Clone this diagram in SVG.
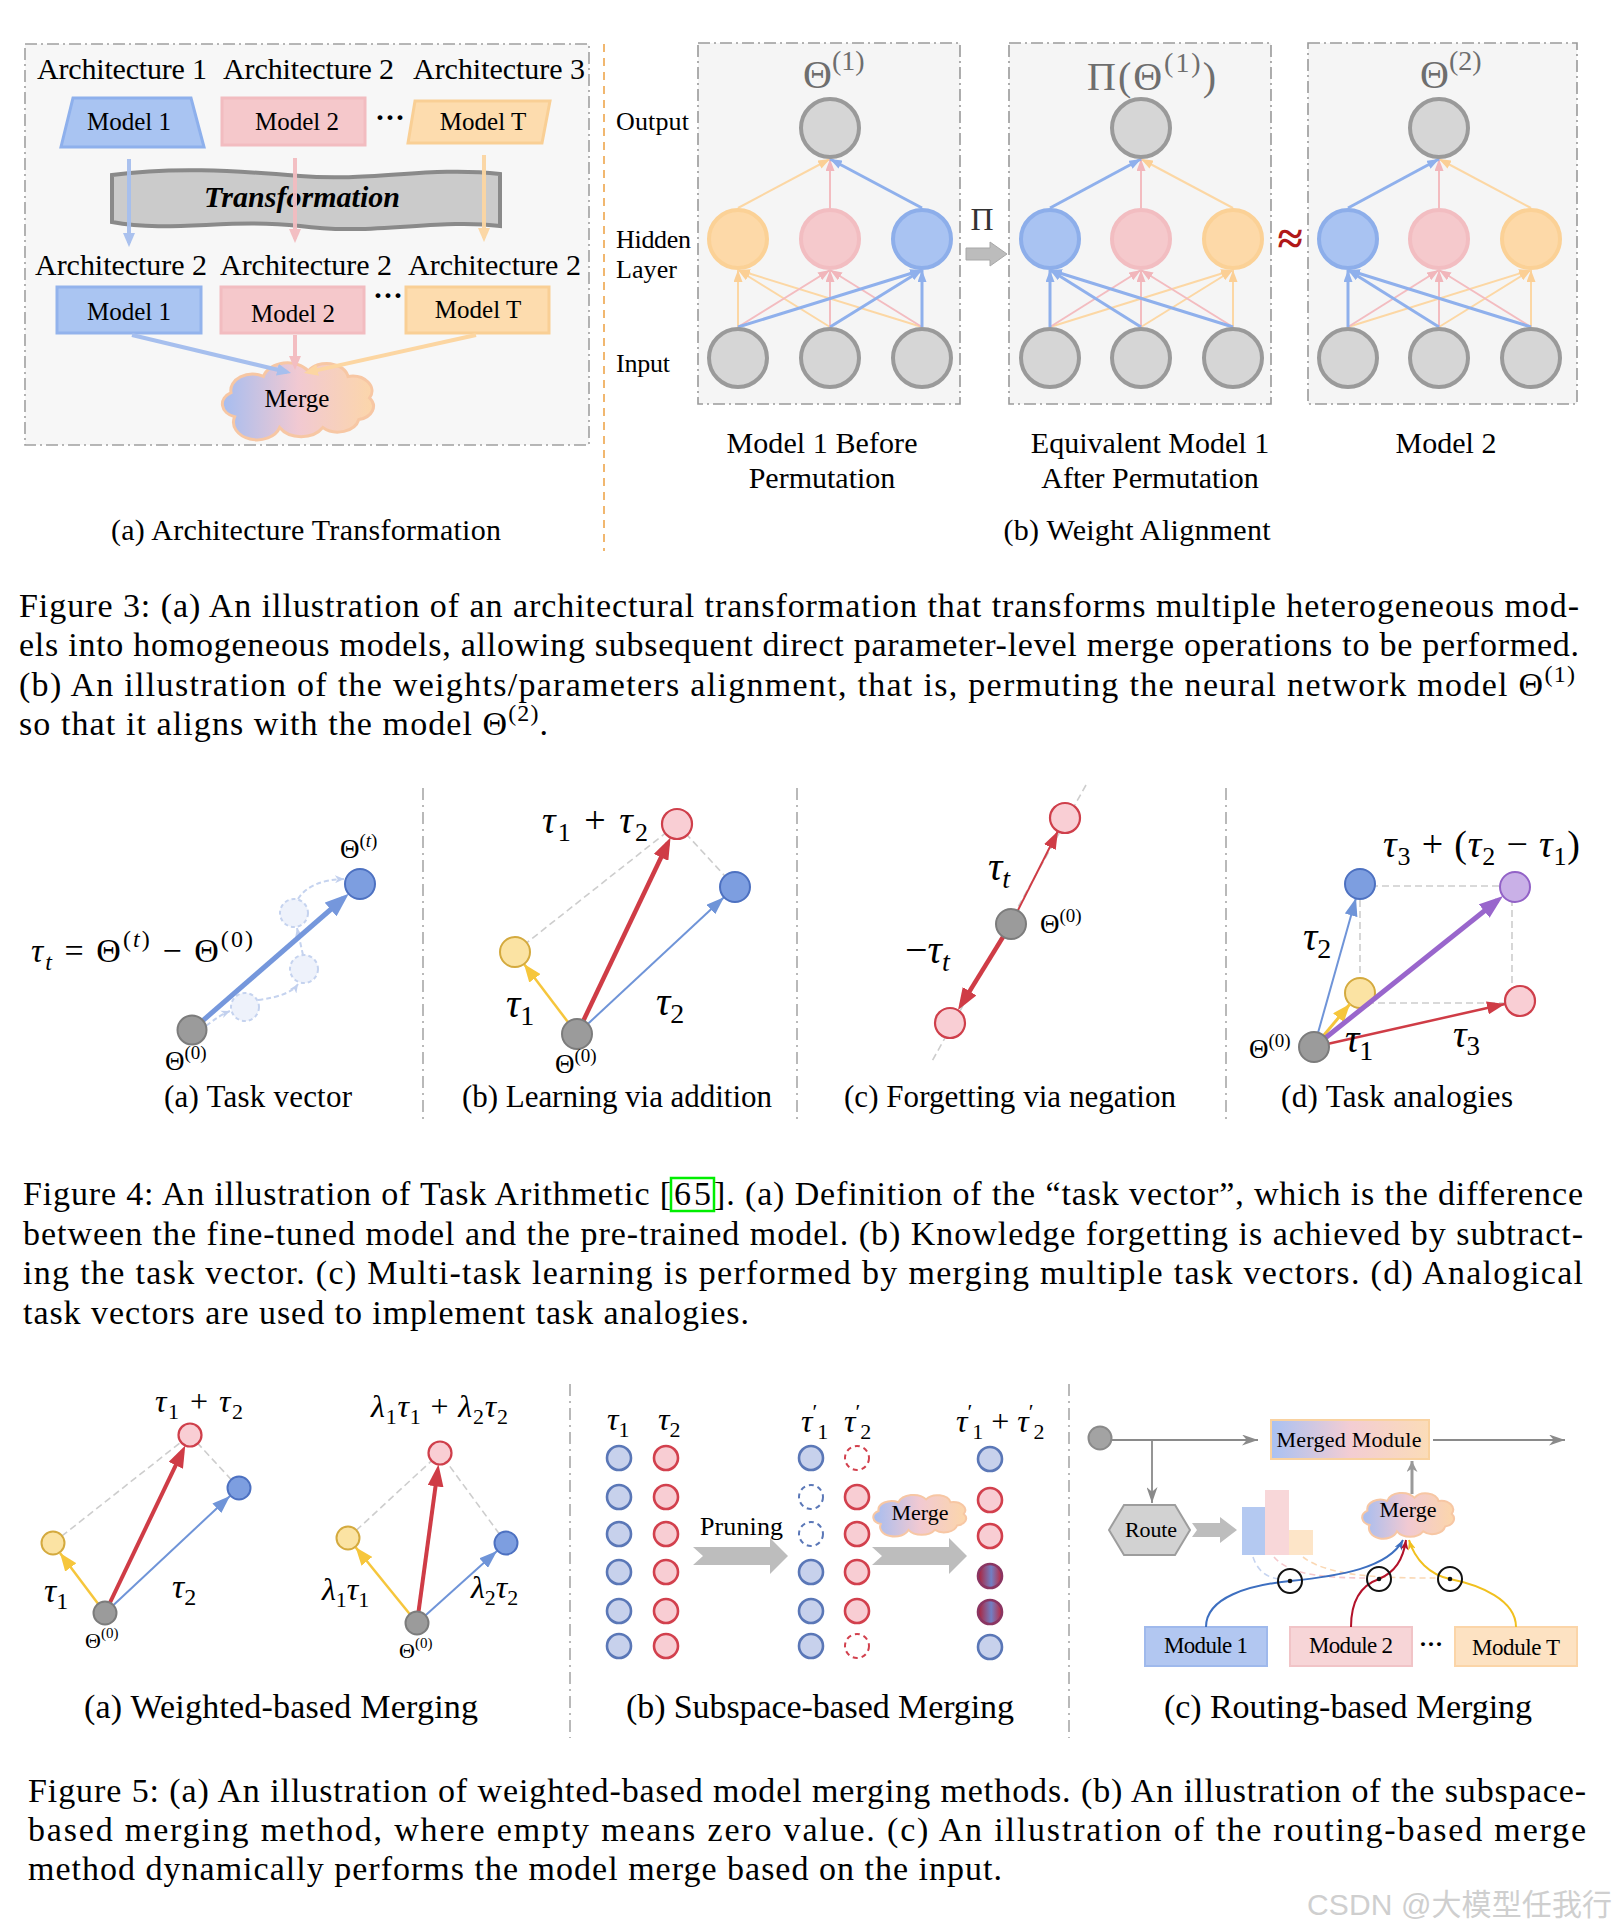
<svg xmlns="http://www.w3.org/2000/svg" width="1620" height="1931" viewBox="0 0 1620 1931">
<defs>
<style>
text{font-family:"Liberation Serif","Times New Roman",serif}
.it{font-style:italic}
.box{fill:#f7f7f7;stroke:#a0a0a0;stroke-width:1.6;stroke-dasharray:12 4 2 4}
.pnl{fill:#f5f5f5;stroke:#9a9a9a;stroke-width:1.6;stroke-dasharray:12 4 2 4}
.vdiv{fill:none;stroke:#a8a8a8;stroke-width:1.6;stroke-dasharray:12 5 2 5}
.gn{fill:#d6d6d6;stroke:#9a9a9a;stroke-width:4}
.hb{fill:#a9c3f2;stroke:#8daeea;stroke-width:4}
.hp{fill:#f5c9cc;stroke:#f2bdc1;stroke-width:4}
.ho{fill:#fdd9a8;stroke:#fbd196;stroke-width:4}
.eb{stroke:#8fb0ec;stroke-width:3;fill:none;marker-end:url(#m3b)}
.ep{stroke:#f3bcc0;stroke-width:2;fill:none;marker-end:url(#m3p)}
.eo{stroke:#fcd7a4;stroke-width:2;fill:none;marker-end:url(#m3o)}
.n0{fill:#9b9b9b;stroke:#7c7c7c;stroke-width:2}
.nb{fill:#7d9ee0;stroke:#4d71c1;stroke-width:2}
.nr{fill:#f9ced4;stroke:#cf3f4b;stroke-width:2.2}
.ny{fill:#fbe3a3;stroke:#d4aa3e;stroke-width:2}
.np{fill:#c9b0e7;stroke:#9262c7;stroke-width:2}
.dg{stroke:#cdcdcd;stroke-width:1.6;stroke-dasharray:7 4;fill:none}
.cb{fill:#c7d1ec;stroke:#5a77b7;stroke-width:2.6}
.cr{fill:#f8cdd3;stroke:#d2404d;stroke-width:2.6}
.cbd{fill:none;stroke:#5a77b7;stroke-width:2;stroke-dasharray:5 4}
.crd{fill:none;stroke:#d2404d;stroke-width:2;stroke-dasharray:5 4}
.fat{fill:#bcbcbc;stroke:#a8a8a8;stroke-width:1}
.ttl{fill:#6e6e6e}
.wm{font-family:"Liberation Sans","Noto Sans CJK SC",sans-serif;fill:#cfcfcf}
</style>
<marker id="m3b" viewBox="0 0 10 10" refX="10" refY="5" markerWidth="12" markerHeight="9" markerUnits="userSpaceOnUse" orient="auto" preserveAspectRatio="none"><path d="M0,0L10,5L0,10z" fill="#8fb0ec"/></marker>
<marker id="m3p" viewBox="0 0 10 10" refX="10" refY="5" markerWidth="12" markerHeight="9" markerUnits="userSpaceOnUse" orient="auto" preserveAspectRatio="none"><path d="M0,0L10,5L0,10z" fill="#f1b6bb"/></marker>
<marker id="m3o" viewBox="0 0 10 10" refX="10" refY="5" markerWidth="12" markerHeight="9" markerUnits="userSpaceOnUse" orient="auto" preserveAspectRatio="none"><path d="M0,0L10,5L0,10z" fill="#fbcf95"/></marker>
<marker id="mAb" viewBox="0 0 10 10" refX="7" refY="5" markerWidth="14" markerHeight="12" markerUnits="userSpaceOnUse" orient="auto" preserveAspectRatio="none"><path d="M0,0L10,5L0,10z" fill="#a6bfee"/></marker>
<marker id="mAp" viewBox="0 0 10 10" refX="7" refY="5" markerWidth="14" markerHeight="12" markerUnits="userSpaceOnUse" orient="auto" preserveAspectRatio="none"><path d="M0,0L10,5L0,10z" fill="#f3bdc1"/></marker>
<marker id="mAo" viewBox="0 0 10 10" refX="7" refY="5" markerWidth="14" markerHeight="12" markerUnits="userSpaceOnUse" orient="auto" preserveAspectRatio="none"><path d="M0,0L10,5L0,10z" fill="#fcd6a2"/></marker>
<marker id="mBB" viewBox="0 0 10 10" refX="7" refY="5" markerWidth="24" markerHeight="18" markerUnits="userSpaceOnUse" orient="auto" preserveAspectRatio="none"><path d="M0,0L10,5L0,10z" fill="#7597dc"/></marker>
<marker id="mB" viewBox="0 0 10 10" refX="10" refY="5" markerWidth="18" markerHeight="13" markerUnits="userSpaceOnUse" orient="auto" preserveAspectRatio="none"><path d="M0,0L10,5L0,10z" fill="#6f94d8"/></marker>
<marker id="mRR" viewBox="0 0 10 10" refX="7" refY="5" markerWidth="22" markerHeight="16" markerUnits="userSpaceOnUse" orient="auto" preserveAspectRatio="none"><path d="M0,0L10,5L0,10z" fill="#cf3c46"/></marker>
<marker id="mR" viewBox="0 0 10 10" refX="10" refY="5" markerWidth="18" markerHeight="13" markerUnits="userSpaceOnUse" orient="auto" preserveAspectRatio="none"><path d="M0,0L10,5L0,10z" fill="#cf3c46"/></marker>
<marker id="mY" viewBox="0 0 10 10" refX="10" refY="5" markerWidth="18" markerHeight="14" markerUnits="userSpaceOnUse" orient="auto" preserveAspectRatio="none"><path d="M0,0L10,5L0,10z" fill="#f6c63c"/></marker>
<marker id="mP" viewBox="0 0 10 10" refX="7" refY="5" markerWidth="24" markerHeight="17" markerUnits="userSpaceOnUse" orient="auto" preserveAspectRatio="none"><path d="M0,0L10,5L0,10z" fill="#9966cc"/></marker>
<marker id="mF" viewBox="0 0 10 10" refX="10" refY="5" markerWidth="9" markerHeight="8" markerUnits="userSpaceOnUse" orient="auto" preserveAspectRatio="none"><path d="M0,0L10,5L0,10L3,5z" fill="#c2d0ee"/></marker>
<marker id="mG" viewBox="0 0 10 10" refX="10" refY="5" markerWidth="16" markerHeight="11" markerUnits="userSpaceOnUse" orient="auto" preserveAspectRatio="none"><path d="M0,0L10,5L0,10L3,5z" fill="#8a8a8a"/></marker>
<marker id="mGB" viewBox="0 0 10 10" refX="10" refY="5" markerWidth="11" markerHeight="11" markerUnits="userSpaceOnUse" orient="auto" preserveAspectRatio="none"><path d="M0,0L10,5L0,10L3,5z" fill="#999"/></marker>
<marker id="mCb" viewBox="0 0 10 10" refX="10" refY="5" markerWidth="10" markerHeight="8" markerUnits="userSpaceOnUse" orient="auto" preserveAspectRatio="none"><path d="M0,0L10,5L0,10L3,5z" fill="#3d6fc0"/></marker>
<marker id="mCr" viewBox="0 0 10 10" refX="10" refY="5" markerWidth="10" markerHeight="8" markerUnits="userSpaceOnUse" orient="auto" preserveAspectRatio="none"><path d="M0,0L10,5L0,10L3,5z" fill="#b3122a"/></marker>
<marker id="mCy" viewBox="0 0 10 10" refX="10" refY="5" markerWidth="10" markerHeight="8" markerUnits="userSpaceOnUse" orient="auto" preserveAspectRatio="none"><path d="M0,0L10,5L0,10L3,5z" fill="#f1c01e"/></marker>
<linearGradient id="gCloud" x1="0" y1="0" x2="1" y2="0"><stop offset="0" stop-color="#a6bdf0"/><stop offset="0.5" stop-color="#f1c9d2"/><stop offset="1" stop-color="#fcd6aa"/></linearGradient>
<linearGradient id="gMM" x1="0" y1="0" x2="1" y2="0"><stop offset="0" stop-color="#a9c1f2"/><stop offset="0.5" stop-color="#f3cdd3"/><stop offset="1" stop-color="#fbdcb8"/></linearGradient>
<linearGradient id="gRB" x1="0" y1="0" x2="1" y2="0"><stop offset="0" stop-color="#b01e35"/><stop offset="0.55" stop-color="#7180c4"/><stop offset="1" stop-color="#c0273d"/></linearGradient>
<path id="cloud" d="M15,40 a10,10 0 0 1 -2,-18 a12,12 0 0 1 18,-12 a14,14 0 0 1 25,-4 a12,12 0 0 1 22,4 a11,11 0 0 1 12,16 a10,10 0 0 1 -6,16 a12,12 0 0 1 -20,6 a14,14 0 0 1 -24,0 a12,12 0 0 1 -25,-8 z" vector-effect="non-scaling-stroke"/>
</defs>
<rect width="1620" height="1931" fill="#ffffff"/>

<!-- ===== Figure 3 (a) ===== -->
<g id="fig3a">
<rect class="box" x="25" y="44" width="564" height="401"/>
<text x="37" y="79" font-size="30" textLength="170">Architecture 1</text>
<text x="223" y="79" font-size="30" textLength="171">Architecture 2</text>
<text x="413" y="79" font-size="30" textLength="172">Architecture 3</text>
<g id="a-model1-top"><polygon points="73,98 191,98 204,147 61,147" fill="#a9c4f2" stroke="#8eb0ec" stroke-width="3"/><text x="129" y="130" font-size="25" text-anchor="middle">Model 1</text></g>
<g id="a-model2-top"><rect x="222" y="98" width="143" height="47" fill="#f5c8cb" stroke="#f2bcc0" stroke-width="3"/><text x="297" y="130" font-size="25" text-anchor="middle">Model 2</text></g>
<text x="375" y="127" font-size="30" font-weight="bold">···</text>
<g id="a-modelT-top"><polygon points="415,101 550,101 542,143 408,143" fill="#fddcae" stroke="#f9cf95" stroke-width="3"/><text x="483" y="130" font-size="25" text-anchor="middle">Model T</text></g>
<g id="a-transformation">
<path d="M112,175 C170,167 230,170 300,176 C370,182 430,166 500,174 L500,226 C440,218 370,236 300,226 C230,218 170,233 112,222 Z" fill="#cbcbcb" stroke="#8a8a8a" stroke-width="4"/>
<text x="302" y="207" font-size="30" font-weight="bold" font-style="italic" text-anchor="middle" textLength="196">Transformation</text>
</g>
<text x="35" y="275" font-size="30" textLength="172">Architecture 2</text>
<text x="220" y="275" font-size="30" textLength="172">Architecture 2</text>
<text x="408" y="275" font-size="30" textLength="173">Architecture 2</text>
<g id="a-model1-bot"><rect x="57" y="287" width="144" height="46" fill="#aac5f2" stroke="#93b3ec" stroke-width="3"/><text x="129" y="320" font-size="25" text-anchor="middle">Model 1</text></g>
<g id="a-model2-bot"><rect x="221" y="287" width="143" height="46" fill="#f5c8cb" stroke="#f2bcc0" stroke-width="3"/><text x="293" y="322" font-size="25" text-anchor="middle">Model 2</text></g>
<text x="373" y="305" font-size="30" font-weight="bold">···</text>
<g id="a-modelT-bot"><rect x="406" y="287" width="143" height="46" fill="#fddcae" stroke="#f9cf95" stroke-width="3"/><text x="478" y="318" font-size="25" text-anchor="middle">Model T</text></g>
<g id="a-merge"><use href="#cloud" transform="translate(207.6,363) scale(1.8,1.345)" fill="url(#gCloud)" stroke="#f7c7a4" stroke-width="3"/><text x="297" y="407" font-size="25" text-anchor="middle">Merge</text></g>
</g>
<g id="fig3a-connectors">
<line x1="129" y1="159" x2="129" y2="242.8" stroke="#a6bfee" stroke-width="4" marker-end="url(#mAb)" opacity="0.95"/>
<line x1="295" y1="158" x2="295" y2="238.8" stroke="#f3bdc1" stroke-width="4" marker-end="url(#mAp)" opacity="0.95"/>
<line x1="484" y1="155" x2="484" y2="237.8" stroke="#fcd6a2" stroke-width="4" marker-end="url(#mAo)" opacity="0.95"/>
<line x1="132" y1="335" x2="286.9" y2="372" stroke="#a6bfee" stroke-width="4" marker-end="url(#mAb)"/>
<line x1="295" y1="335" x2="295" y2="365.8" stroke="#f3bdc1" stroke-width="4" marker-end="url(#mAp)"/>
<line x1="476" y1="335" x2="308.1" y2="372.1" stroke="#fcd6a2" stroke-width="4" marker-end="url(#mAo)"/>
</g>
<text x="306" y="540" font-size="30" text-anchor="middle" textLength="390">(a) Architecture Transformation</text>
<line x1="604" y1="44" x2="604" y2="551" stroke="#f0b060" stroke-width="1.8" stroke-dasharray="8 6"/>

<!-- ===== Figure 3 (b) ===== -->
<g id="fig3b-labels">
<text x="616" y="130" font-size="26" textLength="73">Output</text>
<text x="616" y="248" font-size="26" textLength="75">Hidden</text>
<text x="616" y="278" font-size="26" textLength="61">Layer</text>
<text x="616" y="372" font-size="26" textLength="54">Input</text>
</g>
<g id="panel1">
<rect class="pnl" x="698" y="43" width="262" height="361"/>
<text class="ttl" x="803" y="88" font-size="40">Θ<tspan font-size="28" dy="-18">(1)</tspan></text>
<g id="p1-edges">
<line class="eo" x1="738" y1="327" x2="738" y2="270"/><line class="eo" x1="830" y1="327" x2="738" y2="270"/><line class="eo" x1="922" y1="327" x2="738" y2="270"/><line class="eo" x1="738" y1="208" x2="830" y2="159"/>
<line class="ep" x1="738" y1="327" x2="830" y2="270"/><line class="ep" x1="830" y1="327" x2="830" y2="270"/><line class="ep" x1="922" y1="327" x2="830" y2="270"/><line class="ep" x1="830" y1="208" x2="830" y2="159"/>
<line class="eb" x1="738" y1="327" x2="922" y2="270"/><line class="eb" x1="830" y1="327" x2="922" y2="270"/><line class="eb" x1="922" y1="327" x2="922" y2="270"/><line class="eb" x1="922" y1="208" x2="830" y2="159"/>
</g>
<circle class="gn" cx="830" cy="128" r="29"/>
<circle class="ho" cx="738" cy="239" r="29"/><circle class="hp" cx="830" cy="239" r="29"/><circle class="hb" cx="922" cy="239" r="29"/>
<circle class="gn" cx="738" cy="358" r="29"/><circle class="gn" cx="830" cy="358" r="29"/><circle class="gn" cx="922" cy="358" r="29"/>
</g>
<g id="pi-arrow">
<text x="982" y="230" font-size="32" text-anchor="middle" fill="#333">Π</text>
<polygon class="fat" points="966,248 990,248 990,242 1007,254 990,266 990,260 966,260"/>
</g>
<g id="panel2">
<rect class="pnl" x="1009" y="43" width="262" height="361"/>
<text class="ttl" x="1087" y="90" font-size="40" textLength="129">Π(Θ<tspan font-size="28" dy="-18">(1)</tspan><tspan dy="18">)</tspan></text>
<g id="p2-edges">
<line class="eo" x1="1050" y1="327" x2="1233" y2="270"/><line class="eo" x1="1141" y1="327" x2="1233" y2="270"/><line class="eo" x1="1233" y1="327" x2="1233" y2="270"/><line class="eo" x1="1233" y1="208" x2="1141" y2="159"/>
<line class="ep" x1="1050" y1="327" x2="1141" y2="270"/><line class="ep" x1="1141" y1="327" x2="1141" y2="270"/><line class="ep" x1="1233" y1="327" x2="1141" y2="270"/><line class="ep" x1="1141" y1="208" x2="1141" y2="159"/>
<line class="eb" x1="1050" y1="327" x2="1050" y2="270"/><line class="eb" x1="1141" y1="327" x2="1050" y2="270"/><line class="eb" x1="1233" y1="327" x2="1050" y2="270"/><line class="eb" x1="1050" y1="208" x2="1141" y2="159"/>
</g>
<circle class="gn" cx="1141" cy="128" r="29"/>
<circle class="hb" cx="1050" cy="239" r="29"/><circle class="hp" cx="1141" cy="239" r="29"/><circle class="ho" cx="1233" cy="239" r="29"/>
<circle class="gn" cx="1050" cy="358" r="29"/><circle class="gn" cx="1141" cy="358" r="29"/><circle class="gn" cx="1233" cy="358" r="29"/>
</g>
<text x="1290" y="254" font-size="46" font-weight="bold" text-anchor="middle" fill="#b01818">≈</text>
<g id="panel3">
<rect class="pnl" x="1308" y="43" width="269" height="361"/>
<text class="ttl" x="1420" y="88" font-size="40">Θ<tspan font-size="28" dy="-18">(2)</tspan></text>
<g id="p3-edges">
<line class="eo" x1="1348" y1="327" x2="1531" y2="270"/><line class="eo" x1="1439" y1="327" x2="1531" y2="270"/><line class="eo" x1="1531" y1="327" x2="1531" y2="270"/><line class="eo" x1="1531" y1="208" x2="1439" y2="159"/>
<line class="ep" x1="1348" y1="327" x2="1439" y2="270"/><line class="ep" x1="1439" y1="327" x2="1439" y2="270"/><line class="ep" x1="1531" y1="327" x2="1439" y2="270"/><line class="ep" x1="1439" y1="208" x2="1439" y2="159"/>
<line class="eb" x1="1348" y1="327" x2="1348" y2="270"/><line class="eb" x1="1439" y1="327" x2="1348" y2="270"/><line class="eb" x1="1531" y1="327" x2="1348" y2="270"/><line class="eb" x1="1348" y1="208" x2="1439" y2="159"/>
</g>
<circle class="gn" cx="1439" cy="128" r="29"/>
<circle class="hb" cx="1348" cy="239" r="29"/><circle class="hp" cx="1439" cy="239" r="29"/><circle class="ho" cx="1531" cy="239" r="29"/>
<circle class="gn" cx="1348" cy="358" r="29"/><circle class="gn" cx="1439" cy="358" r="29"/><circle class="gn" cx="1531" cy="358" r="29"/>
</g>
<g id="fig3b-captions">
<text x="822" y="453" font-size="30" text-anchor="middle" textLength="191">Model 1 Before</text>
<text x="822" y="488" font-size="30" text-anchor="middle">Permutation</text>
<text x="1150" y="453" font-size="30" text-anchor="middle">Equivalent Model 1</text>
<text x="1150" y="488" font-size="30" text-anchor="middle">After Permutation</text>
<text x="1446" y="453" font-size="30" text-anchor="middle">Model 2</text>
<text x="1137" y="540" font-size="30" text-anchor="middle" textLength="267">(b) Weight Alignment</text>
</g>

<!-- Figure 3 caption -->
<g id="cap3">
<text x="19" y="617" font-size="34" textLength="1560">Figure 3: (a) An illustration of an architectural transformation that transforms multiple heterogeneous mod-</text>
<text x="19" y="656" font-size="34" textLength="1560">els into homogeneous models, allowing subsequent direct parameter-level merge operations to be performed.</text>
<text x="19" y="696" font-size="34" textLength="1556">(b) An illustration of the weights/parameters alignment, that is, permuting the neural network model Θ<tspan font-size="24" dy="-14">(1)</tspan></text>
<text x="19" y="735" font-size="34" textLength="529">so that it aligns with the model Θ<tspan font-size="24" dy="-14">(2)</tspan><tspan dy="14">.</tspan></text>
</g>

<!-- ===== Figure 4 ===== -->
<g id="fig4-dividers">
<line class="vdiv" x1="423" y1="788" x2="423" y2="1122"/>
<line class="vdiv" x1="797" y1="788" x2="797" y2="1122"/>
<line class="vdiv" x1="1226" y1="788" x2="1226" y2="1122"/>
</g>
<!-- 4a -->
<g id="fig4a">
<g id="f4a-faint" stroke="#c5d3ef" stroke-width="2" fill="none">
<circle cx="245" cy="1007" r="14" fill="#eef2fb" stroke-dasharray="4 3"/>
<circle cx="304" cy="969" r="14" fill="#eef2fb" stroke-dasharray="4 3"/>
<circle cx="294" cy="913" r="14" fill="#eef2fb" stroke-dasharray="4 3"/>
<path d="M206,1026 Q220,1015 230,1011" stroke-dasharray="5 3" marker-end="url(#mF)"/>
<path d="M258,1000 Q290,996 298,984" stroke-dasharray="5 3" marker-end="url(#mF)"/>
<path d="M303,955 L297,928" stroke-dasharray="5 3" marker-end="url(#mF)"/>
<path d="M298,899 Q310,880 344,879" stroke-dasharray="5 3" marker-end="url(#mF)"/>
</g>
<line x1="192" y1="1030" x2="343.3" y2="898.5" stroke="#7597dc" stroke-width="5" marker-end="url(#mBB)"/>
<circle class="n0" cx="192" cy="1030" r="14.5"/>
<circle class="nb" cx="360" cy="884" r="15"/>
<text x="31" y="962" font-size="34" textLength="222"><tspan class="it">τ</tspan><tspan class="it" font-size="24" dy="8">t</tspan><tspan dy="-8"> = Θ</tspan><tspan font-size="24" dy="-15">(</tspan><tspan class="it" font-size="24">t</tspan><tspan font-size="24">)</tspan><tspan dy="15"> − Θ</tspan><tspan font-size="24" dy="-15">(0)</tspan></text>
<text x="340" y="858" font-size="27">Θ<tspan font-size="19" dy="-11">(</tspan><tspan class="it" font-size="19">t</tspan><tspan font-size="19">)</tspan></text>
<text x="165" y="1070" font-size="27">Θ<tspan font-size="19" dy="-11">(0)</tspan></text>
<text x="258" y="1107" font-size="31" text-anchor="middle" textLength="188">(a) Task vector</text>
</g>
<!-- 4b -->
<g id="fig4b">
<line class="dg" x1="515" y1="952" x2="677" y2="824"/>
<line class="dg" x1="735" y1="887" x2="677" y2="824"/>
<line x1="577" y1="1034" x2="524" y2="964" stroke="#f6c63c" stroke-width="2.5" marker-end="url(#mY)"/>
<line x1="577" y1="1034" x2="724" y2="897.2" stroke="#6f94d8" stroke-width="2" marker-end="url(#mB)"/>
<line x1="577" y1="1034" x2="667.7" y2="843.5" stroke="#cf3c46" stroke-width="4.5" marker-end="url(#mRR)"/>
<circle class="ny" cx="515" cy="952" r="15"/>
<circle class="nr" cx="677" cy="824" r="15"/>
<circle class="nb" cx="735" cy="887" r="15"/>
<circle class="n0" cx="577" cy="1034" r="15"/>
<text x="542" y="833" font-size="38" textLength="106"><tspan class="it">τ</tspan><tspan font-size="26" dy="8">1</tspan><tspan dy="-8"> + </tspan><tspan class="it">τ</tspan><tspan font-size="26" dy="8">2</tspan></text>
<text x="506" y="1017" font-size="40"><tspan class="it">τ</tspan><tspan font-size="28" dy="8">1</tspan></text>
<text x="656" y="1015" font-size="40"><tspan class="it">τ</tspan><tspan font-size="28" dy="8">2</tspan></text>
<text x="555" y="1073" font-size="27">Θ<tspan font-size="19" dy="-11">(0)</tspan></text>
<text x="617" y="1107" font-size="31" text-anchor="middle" textLength="310">(b) Learning via addition</text>
</g>
<!-- 4c -->
<g id="fig4c">
<line class="dg" x1="1086" y1="785" x2="931" y2="1063"/>
<line x1="1011" y1="924" x2="1058" y2="831" stroke="#cf3c46" stroke-width="2" marker-end="url(#mR)"/>
<line x1="1011" y1="924" x2="961.5" y2="1004.4" stroke="#cf3c46" stroke-width="4.5" marker-end="url(#mRR)"/>
<circle class="nr" cx="1065" cy="818" r="15"/>
<circle class="nr" cx="950" cy="1023" r="15"/>
<circle class="n0" cx="1011" cy="924" r="15"/>
<text x="988" y="880" font-size="40"><tspan class="it">τ</tspan><tspan class="it" font-size="28" dy="8">t</tspan></text>
<text x="905" y="963" font-size="40">−<tspan class="it">τ</tspan><tspan class="it" font-size="28" dy="8">t</tspan></text>
<text x="1040" y="933" font-size="27">Θ<tspan font-size="19" dy="-11">(0)</tspan></text>
<text x="1010" y="1107" font-size="31" text-anchor="middle" textLength="332">(c) Forgetting via negation</text>
</g>
<!-- 4d -->
<g id="fig4d">
<rect class="dg" x="1360" y="886" width="152" height="117"/>
<line x1="1314" y1="1047" x2="1356" y2="898" stroke="#6f94d8" stroke-width="2" marker-end="url(#mB)"/>
<line x1="1314" y1="1047" x2="1505" y2="1004" stroke="#cf3c46" stroke-width="2.5" marker-end="url(#mR)"/>
<circle class="nb" cx="1360" cy="884" r="15"/>
<circle class="ny" cx="1360" cy="993" r="15"/>
<line x1="1314" y1="1047" x2="1350" y2="1004" stroke="#f6c63c" stroke-width="3" marker-end="url(#mY)"/>
<line x1="1314" y1="1047" x2="1497.4" y2="900.5" stroke="#9966cc" stroke-width="5" marker-end="url(#mP)"/>
<circle class="np" cx="1515" cy="887" r="15"/>
<circle class="nr" cx="1520" cy="1001" r="15"/>
<circle class="n0" cx="1314" cy="1047" r="15"/>
<text x="1383" y="857" font-size="38" textLength="197"><tspan class="it">τ</tspan><tspan font-size="26" dy="8">3</tspan><tspan dy="-8"> + (</tspan><tspan class="it">τ</tspan><tspan font-size="26" dy="8">2</tspan><tspan dy="-8"> − </tspan><tspan class="it">τ</tspan><tspan font-size="26" dy="8">1</tspan><tspan dy="-8">)</tspan></text>
<text x="1303" y="950" font-size="40"><tspan class="it">τ</tspan><tspan font-size="28" dy="8">2</tspan></text>
<text x="1345" y="1052" font-size="40"><tspan class="it">τ</tspan><tspan font-size="28" dy="8">1</tspan></text>
<text x="1453" y="1047" font-size="38"><tspan class="it">τ</tspan><tspan font-size="27" dy="8">3</tspan></text>
<text x="1249" y="1058" font-size="27">Θ<tspan font-size="19" dy="-11">(0)</tspan></text>
<text x="1397" y="1107" font-size="31" text-anchor="middle" textLength="232">(d) Task analogies</text>
</g>

<!-- Figure 4 caption -->
<g id="cap4">
<text x="23" y="1205" font-size="34" textLength="648">Figure 4: An illustration of Task Arithmetic [</text>
<text x="674" y="1205" font-size="34" textLength="37">65</text>
<rect x="671" y="1178" width="43" height="33" fill="none" stroke="#00ee00" stroke-width="2.5"/>
<text x="714" y="1205" font-size="34" textLength="869">]. (a) Definition of the “task vector”, which is the difference</text>
<text x="23" y="1245" font-size="34" textLength="1560">between the fine-tuned model and the pre-trained model. (b) Knowledge forgetting is achieved by subtract-</text>
<text x="23" y="1284" font-size="34" textLength="1560">ing the task vector. (c) Multi-task learning is performed by merging multiple task vectors. (d) Analogical</text>
<text x="23" y="1324" font-size="34" textLength="726">task vectors are used to implement task analogies.</text>
</g>

<!-- ===== Figure 5 ===== -->
<g id="fig5-dividers">
<line class="vdiv" x1="570" y1="1384" x2="570" y2="1738"/>
<line class="vdiv" x1="1069" y1="1384" x2="1069" y2="1738"/>
</g>
<!-- 5a -->
<g id="fig5a">
<line class="dg" x1="53" y1="1543" x2="190" y2="1435"/>
<line class="dg" x1="239" y1="1488" x2="190" y2="1435"/>
<line x1="105" y1="1613" x2="60" y2="1553" stroke="#f6c63c" stroke-width="2.5" marker-end="url(#mY)"/>
<line x1="105" y1="1613" x2="230" y2="1496" stroke="#6f94d8" stroke-width="2" marker-end="url(#mB)"/>
<line x1="105" y1="1613" x2="182.4" y2="1451.4" stroke="#cf3c46" stroke-width="4" marker-end="url(#mRR)"/>
<circle class="ny" cx="53" cy="1543" r="11.5"/>
<circle class="nr" cx="190" cy="1435" r="11.5"/>
<circle class="nb" cx="239" cy="1488" r="11.5"/>
<circle class="n0" cx="105" cy="1613" r="11.5"/>
<text x="155" y="1412" font-size="32" textLength="88"><tspan class="it">τ</tspan><tspan font-size="22" dy="7">1</tspan><tspan dy="-7"> + </tspan><tspan class="it">τ</tspan><tspan font-size="22" dy="7">2</tspan></text>
<text x="44" y="1602" font-size="34"><tspan class="it">τ</tspan><tspan font-size="24" dy="7">1</tspan></text>
<text x="172" y="1598" font-size="34"><tspan class="it">τ</tspan><tspan font-size="24" dy="7">2</tspan></text>
<text x="85" y="1648" font-size="22">Θ<tspan font-size="15" dy="-10">(0)</tspan></text>

<line class="dg" x1="348" y1="1538" x2="440" y2="1453"/>
<line class="dg" x1="506" y1="1543" x2="440" y2="1453"/>
<line x1="417" y1="1623" x2="355.6" y2="1547.3" stroke="#f6c63c" stroke-width="2.5" marker-end="url(#mY)"/>
<line x1="417" y1="1623" x2="497" y2="1551" stroke="#6f94d8" stroke-width="2" marker-end="url(#mB)"/>
<line x1="417" y1="1623" x2="437.6" y2="1471" stroke="#cf3c46" stroke-width="4" marker-end="url(#mRR)"/>
<circle class="ny" cx="348" cy="1538" r="11.5"/>
<circle class="nr" cx="440" cy="1453" r="11.5"/>
<circle class="nb" cx="506" cy="1543" r="11.5"/>
<circle class="n0" cx="417" cy="1623" r="11.5"/>
<text x="371" y="1417" font-size="32" textLength="137"><tspan class="it">λ</tspan><tspan font-size="22" dy="7">1</tspan><tspan class="it" dy="-7">τ</tspan><tspan font-size="22" dy="7">1</tspan><tspan dy="-7"> + </tspan><tspan class="it">λ</tspan><tspan font-size="22" dy="7">2</tspan><tspan class="it" dy="-7">τ</tspan><tspan font-size="22" dy="7">2</tspan></text>
<text x="322" y="1600" font-size="32"><tspan class="it">λ</tspan><tspan font-size="22" dy="7">1</tspan><tspan class="it" dy="-7">τ</tspan><tspan font-size="22" dy="7">1</tspan></text>
<text x="471" y="1598" font-size="32"><tspan class="it">λ</tspan><tspan font-size="22" dy="7">2</tspan><tspan class="it" dy="-7">τ</tspan><tspan font-size="22" dy="7">2</tspan></text>
<text x="399" y="1658" font-size="22">Θ<tspan font-size="15" dy="-10">(0)</tspan></text>
<text x="281" y="1718" font-size="34" text-anchor="middle" textLength="394">(a) Weighted-based Merging</text>
</g>
<!-- 5b -->
<g id="fig5b">
<text x="607" y="1430" font-size="32"><tspan class="it">τ</tspan><tspan font-size="22" dy="7">1</tspan></text>
<text x="658" y="1430" font-size="32"><tspan class="it">τ</tspan><tspan font-size="22" dy="7">2</tspan></text>
<text x="801" y="1432" font-size="32"><tspan class="it">τ</tspan><tspan font-size="22" dy="-13">′</tspan><tspan font-size="22" dy="20">1</tspan></text>
<text x="844" y="1432" font-size="32"><tspan class="it">τ</tspan><tspan font-size="22" dy="-13">′</tspan><tspan font-size="22" dy="20">2</tspan></text>
<text x="956" y="1432" font-size="32"><tspan class="it">τ</tspan><tspan font-size="22" dy="-13">′</tspan><tspan font-size="22" dy="20">1</tspan><tspan dy="-7"> + </tspan><tspan class="it">τ</tspan><tspan font-size="22" dy="-13">′</tspan><tspan font-size="22" dy="20">2</tspan></text>
<g id="col-t1">
<circle class="cb" cx="619" cy="1458" r="12"/><circle class="cb" cx="619" cy="1497" r="12"/><circle class="cb" cx="619" cy="1534" r="12"/><circle class="cb" cx="619" cy="1572" r="12"/><circle class="cb" cx="619" cy="1611" r="12"/><circle class="cb" cx="619" cy="1646" r="12"/>
</g>
<g id="col-t2">
<circle class="cr" cx="666" cy="1458" r="12"/><circle class="cr" cx="666" cy="1497" r="12"/><circle class="cr" cx="666" cy="1534" r="12"/><circle class="cr" cx="666" cy="1572" r="12"/><circle class="cr" cx="666" cy="1611" r="12"/><circle class="cr" cx="666" cy="1646" r="12"/>
</g>
<g id="pruning">
<text x="700" y="1535" font-size="26" textLength="83">Pruning</text>
<polygon fill="#bdbdbd" points="693,1547 770,1547 770,1538 788,1556 770,1574 770,1565 693,1565 703,1556"/>
</g>
<g id="col-t1p">
<circle class="cb" cx="811" cy="1458" r="12"/><circle class="cbd" cx="811" cy="1497" r="12"/><circle class="cbd" cx="811" cy="1534" r="12"/><circle class="cb" cx="811" cy="1572" r="12"/><circle class="cb" cx="811" cy="1611" r="12"/><circle class="cb" cx="811" cy="1646" r="12"/>
</g>
<g id="col-t2p">
<circle class="crd" cx="857" cy="1458" r="12"/><circle class="cr" cx="857" cy="1497" r="12"/><circle class="cr" cx="857" cy="1534" r="12"/><circle class="cr" cx="857" cy="1572" r="12"/><circle class="cr" cx="857" cy="1611" r="12"/><circle class="crd" cx="857" cy="1646" r="12"/>
</g>
<g id="b-merge">
<polygon fill="#bdbdbd" points="872,1547 949,1547 949,1538 967,1556 949,1574 949,1565 872,1565 882,1556"/>
<use href="#cloud" transform="translate(864.2,1495) scale(1.106,0.727)" fill="url(#gCloud)" stroke="#f7c7a4" stroke-width="2"/>
<text x="920" y="1520" font-size="22" text-anchor="middle">Merge</text>
</g>
<g id="col-sum">
<circle class="cb" cx="990" cy="1459" r="12"/><circle class="cr" cx="990" cy="1500" r="12"/><circle class="cr" cx="990" cy="1536" r="12"/><circle cx="990" cy="1576" r="12" fill="url(#gRB)" stroke="#8a3562" stroke-width="2.6"/><circle cx="990" cy="1612" r="12" fill="url(#gRB)" stroke="#8a3562" stroke-width="2.6"/><circle class="cb" cx="990" cy="1647" r="12"/>
</g>
<text x="820" y="1718" font-size="34" text-anchor="middle" textLength="388">(b) Subspace-based Merging</text>
</g>
<!-- 5c -->
<g id="fig5c">
<g id="c-input"><circle cx="1100" cy="1438" r="11.5" fill="#a3a3a3" stroke="#8a8a8a" stroke-width="2"/></g>
<g id="c-merged-module"><rect x="1271" y="1420" width="158" height="39" fill="url(#gMM)" stroke="#f9d2a0" stroke-width="2"/><text x="1349" y="1447" font-size="22" text-anchor="middle" textLength="145">Merged Module</text></g>
<g id="c-route"><polygon points="1109,1530 1124,1505 1175,1505 1190,1530 1175,1555 1124,1555" fill="#d2d2d2" stroke="#9d9d9d" stroke-width="2"/><text x="1151" y="1537" font-size="22" text-anchor="middle" textLength="52">Route</text></g>
<polygon fill="#bdbdbd" points="1192,1523 1220,1523 1220,1517 1237,1530 1220,1543 1220,1537 1192,1537 1197,1530"/>
<g id="c-bars">
<rect x="1242" y="1507" width="23" height="48" fill="#b4c9f1"/>
<rect x="1265" y="1490" width="24" height="65" fill="#f8d7d9"/>
<rect x="1289" y="1530" width="24" height="25" fill="#fde5c8"/>
</g>
<g id="c-merge"><use href="#cloud" transform="translate(1353.2,1493) scale(1.094,0.8)" fill="url(#gCloud)" stroke="#f7c7a4" stroke-width="2"/><text x="1408" y="1517" font-size="22" text-anchor="middle">Merge</text></g>
<g id="c-module1"><rect x="1145" y="1627" width="122" height="39" fill="#b2c7f1" stroke="#9fb9ec" stroke-width="2"/><text x="1206" y="1653" font-size="23" text-anchor="middle" textLength="84">Module 1</text></g>
<g id="c-module2"><rect x="1290" y="1627" width="122" height="39" fill="#f7d5d7" stroke="#f1c4c7" stroke-width="2"/><text x="1351" y="1653" font-size="23" text-anchor="middle" textLength="84">Module 2</text></g>
<text x="1431" y="1652" font-size="24" font-weight="bold" text-anchor="middle">···</text>
<g id="c-moduleT"><rect x="1455" y="1627" width="122" height="39" fill="#fde2c2" stroke="#fbd5a8" stroke-width="2"/><text x="1516" y="1655" font-size="23" text-anchor="middle" textLength="88">Module T</text></g>
</g>
<g id="fig5c-connectors">
<line x1="1112" y1="1440" x2="1258" y2="1440" stroke="#8a8a8a" stroke-width="1.8" marker-end="url(#mG)"/>
<line x1="1433" y1="1440" x2="1565" y2="1440" stroke="#8a8a8a" stroke-width="1.8" marker-end="url(#mG)"/>
<line x1="1152" y1="1440" x2="1152" y2="1503" stroke="#8a8a8a" stroke-width="1.8" marker-end="url(#mG)"/>
<line x1="1412" y1="1494" x2="1412" y2="1461" stroke="#9a9a9a" stroke-width="3" marker-end="url(#mGB)"/>
<path d="M1253,1557 C1258,1572 1268,1578 1280,1579" fill="none" stroke="#c6d4f0" stroke-width="1.6" stroke-dasharray="6 4"/>
<path d="M1274,1557 C1290,1576 1330,1578 1367,1578" fill="none" stroke="#f5c8cc" stroke-width="1.6" stroke-dasharray="6 4"/>
<path d="M1303,1557 C1330,1578 1390,1578 1438,1578" fill="none" stroke="#fad8b4" stroke-width="1.6" stroke-dasharray="6 4"/>
<path d="M1206,1627 C1206,1597 1250,1585 1290,1581 C1340,1576 1388,1568 1403,1540" fill="none" stroke="#3d6fc0" stroke-width="2" marker-end="url(#mCb)"/>
<path d="M1351,1627 C1351,1600 1362,1585 1379,1579 C1395,1572 1403,1560 1406,1540" fill="none" stroke="#b3122a" stroke-width="2" marker-end="url(#mCr)"/>
<path d="M1516,1627 C1516,1600 1480,1585 1450,1579 C1430,1575 1415,1560 1409,1540" fill="none" stroke="#f1c01e" stroke-width="2" marker-end="url(#mCy)"/>
<g fill="none" stroke="#111" stroke-width="2">
<circle cx="1290" cy="1581" r="12"/><circle cx="1379" cy="1579" r="12"/><circle cx="1450" cy="1579" r="12"/>
</g>
<g fill="#111"><circle cx="1290" cy="1581" r="2.3"/><circle cx="1379" cy="1579" r="2.3"/><circle cx="1450" cy="1579" r="2.3"/></g>
</g>
<text x="1348" y="1718" font-size="34" text-anchor="middle" textLength="368">(c) Routing-based Merging</text>

<!-- Figure 5 caption -->
<g id="cap5">
<text x="28" y="1802" font-size="34" textLength="1558">Figure 5: (a) An illustration of weighted-based model merging methods. (b) An illustration of the subspace-</text>
<text x="28" y="1841" font-size="34" textLength="1558">based merging method, where empty means zero value. (c) An illustration of the routing-based merge</text>
<text x="28" y="1880" font-size="34" textLength="974">method dynamically performs the model merge based on the input.</text>
</g>
<text class="wm" x="1307" y="1915" font-size="30" textLength="305">CSDN @大模型任我行</text>
</svg>
